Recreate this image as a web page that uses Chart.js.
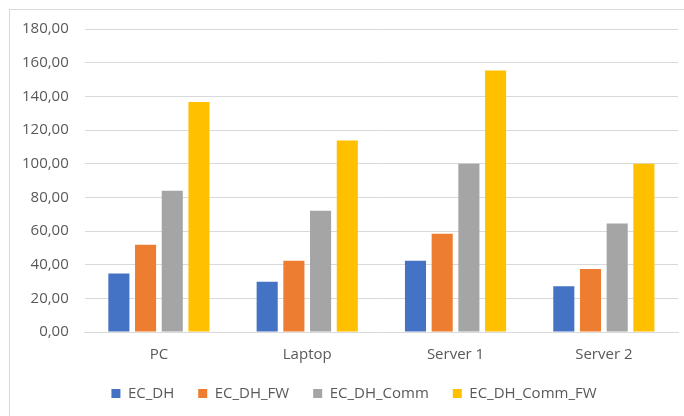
<!DOCTYPE html>
<html>
<head>
<meta charset="utf-8">
<script src="https://cdn.jsdelivr.net/npm/chart.js@4/dist/chart.umd.min.js"></script>
<style>
  html, body { margin: 0; padding: 0; background: #fff; }
  #wrap { position: relative; width: 684px; height: 416px; overflow: hidden; }
  #frame { position: absolute; left: 9px; top: 9px; width: 700px; height: 500px; border: 1px solid #d9d9d9; }
  /* canvas is a bit taller than the window so the legend's lower padding falls off the bottom */
  #box { position: absolute; left: 0; top: 0; width: 684px; height: 419px; }
</style>
</head>
<body>
<div id="wrap">
  <div id="frame"></div>
  <div id="box"><canvas id="grafico"></canvas></div>
</div>
<script>
const categorias = ["PC", "Laptop", "Server 1", "Server 2"];
const ecDh = [34.7, 29.9, 42.4, 27.2];
const ecDhFw = [51.8, 42.3, 58.4, 37.4];
const ecDhComm = [83.9, 72.1, 99.9, 64.4];
const ecDhCommFw = [136.6, 113.7, 155.3, 100.0];
const ticksY = ["0,00", "20,00", "40,00", "60,00", "80,00", "100,00", "120,00", "140,00", "160,00", "180,00"];

const fonte = { family: "'Open Sans', sans-serif", size: 15 };
const corTexto = "#595959";
const corGrade = "#d9d9d9";

// sobe a legenda para perto dos rótulos do eixo x e a desloca um pouco para a direita
const ajustarLegenda = {
  id: "ajustarLegenda",
  afterLayout(chart) {
    const leg = chart.legend;
    leg.top -= 8;
    leg.bottom -= 8;
    leg.left += 12;
    leg.right += 12;
  },
};

function serie(label, data, cor) {
  return {
    label: label,
    data: data,
    backgroundColor: cor,
    borderWidth: 0,
    barPercentage: 0.79,
    categoryPercentage: 0.72,
  };
}

function criarGrafico() {
  new Chart(document.getElementById("grafico"), {
    type: "bar",
    data: {
      labels: categorias,
      datasets: [
        serie("EC_DH", ecDh, "#4472C4"),
        serie("EC_DH_FW", ecDhFw, "#ED7D31"),
        serie("EC_DH_Comm", ecDhComm, "#A5A5A5"),
        serie("EC_DH_Comm_FW", ecDhCommFw, "#FFC000"),
      ],
    },
    options: {
      responsive: true,
      maintainAspectRatio: false,
      animation: false,
      devicePixelRatio: 1,
      layout: { padding: { top: 29, right: 6, bottom: 0, left: 6 } },
      scales: {
        x: {
          grid: { display: false },
          border: { display: true, color: corGrade, width: 1 },
          ticks: { color: corTexto, font: fonte, padding: 6 },
        },
        y: {
          min: 0,
          max: 180,
          grid: { color: corGrade, lineWidth: 1, drawTicks: false },
          border: { display: false },
          ticks: {
            stepSize: 20,
            color: corTexto,
            font: fonte,
            padding: 16,
            callback: (v, i) => ticksY[i],
          },
        },
      },
      plugins: {
        legend: {
          position: "bottom",
          labels: {
            color: corTexto,
            font: fonte,
            boxWidth: 9,
            boxHeight: 9,
            padding: 24,
          },
        },
        tooltip: { enabled: false },
      },
    },
    plugins: [ajustarLegenda],
  });
}

document.fonts.load("15px 'Open Sans'").then(criarGrafico, criarGrafico);
</script>
</body>
</html>
